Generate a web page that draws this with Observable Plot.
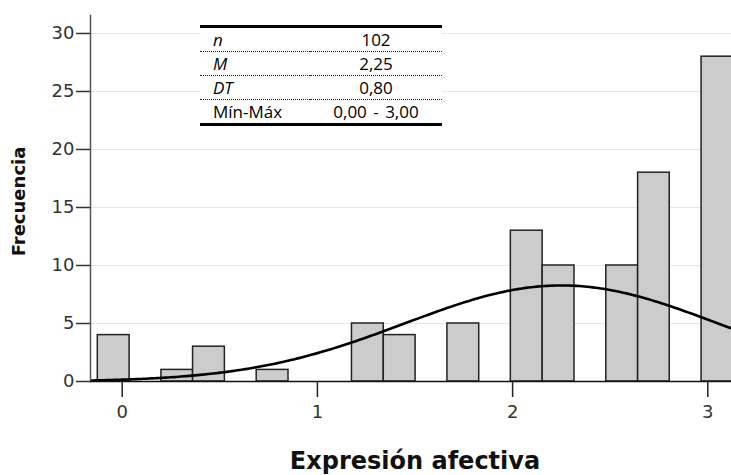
<!DOCTYPE html>
<html>
<head>
<meta charset="utf-8">
<script src="https://cdn.jsdelivr.net/npm/d3@7"></script>
<script src="https://cdn.jsdelivr.net/npm/@observablehq/plot@0.6"></script>
<style>
  html, body { margin: 0; padding: 0; background: #fff; }
  #wrap { position: relative; width: 731px; height: 475px; }
  #stats {
    position: absolute; left: 200px; top: 25px; width: 242px;
    background: #fff; border-top: 3px solid #000; border-bottom: 3px solid #000;
    border-collapse: collapse; font-family: "Open Sans", sans-serif; font-size: 17px; color: #000;
  }
  #stats td { height: 23px; padding: 0; line-height: 23px; border-bottom: 1.5px dotted #222; }
  #stats tr:last-child td { border-bottom: none; }
  #stats td.lab { padding-left: 13px; width: 97px; }
  #stats td.val { text-align: center; word-spacing: 2px; }
  #stats td.it { font-style: italic; }
</style>
</head>
<body>
<div id="wrap"></div>
<script>
// ---- data ----
const binEdges = [-0.125, 0.038, 0.201, 0.363, 0.526, 0.689, 0.852, 1.015, 1.177, 1.340, 1.503,
                  1.666, 1.829, 1.991, 2.154, 2.317, 2.480, 2.643, 2.805, 2.968, 3.131];
const counts   = [4, 0, 1, 3, 0, 1, 0, 0, 5, 4, 0, 5, 0, 13, 10, 0, 10, 18, 0, 28];
const yTicks = [0, 5, 10, 15, 20, 25, 30];
const xTicks = [0, 1, 2, 3];
const statLabels = ["n", "M", "DT", "Mín-Máx"];
const statValues = ["102", "2,25", "0,80", "0,00 - 3,00"];
const statItalic = [true, true, true, false];
const nObs = 102, meanVal = 2.25, sdVal = 0.80;

// ---- derived tables ----
const bins = counts.map((c, i) => ({x1: binEdges[i], x2: binEdges[i + 1], count: c})).filter(d => d.count > 0);
const binW = (binEdges[binEdges.length - 1] - binEdges[0]) / counts.length;
const xDomain = [-0.1624, 3.1214];
const curve = d3.range(0, 241).map(i => {
  const x = xDomain[0] + (xDomain[1] - xDomain[0]) * i / 240;
  const z = (x - meanVal) / sdVal;
  return {x, y: nObs * binW * Math.exp(-0.5 * z * z) / (sdVal * Math.sqrt(2 * Math.PI))};
});

const font = "DejaVu Sans";
const chart = Plot.plot({
  width: 731, height: 475,
  marginLeft: 90, marginRight: 0, marginTop: 15, marginBottom: 94,
  style: {fontFamily: font, background: "#fff"},
  x: {domain: xDomain},
  y: {domain: [0, 31.55]},
  marks: [
    Plot.gridY(yTicks.filter(d => d > 0), {stroke: "#e6e6e6", strokeOpacity: 1, strokeWidth: 1.2}),
    Plot.rectY(bins, {x1: "x1", x2: "x2", y: "count", fill: "#cccccc", stroke: "#222", strokeWidth: 1.5, clip: true}),
    Plot.line(curve, {x: "x", y: "y", stroke: "#000", strokeWidth: 2.6, clip: true}),
    Plot.frame({anchor: "left", stroke: "#555", strokeWidth: 1.5}),
    Plot.ruleY([0], {stroke: "#111", strokeWidth: 1.5}),
    Plot.axisY({ticks: yTicks, tickFormat: d => String(d), tickSize: 14, tickPadding: 2, fontSize: 18, fill: "#333", stroke: "#333", strokeWidth: 1.5, label: null}),
    Plot.axisX({ticks: xTicks, tickFormat: d => String(d), tickSize: 16, tickPadding: 8, fontSize: 18, fill: "#333", stroke: "#222", strokeWidth: 1.5, label: null}),
    Plot.text(["Frecuencia"], {frameAnchor: "left", textAnchor: "middle", dx: -71, dy: 3, rotate: -90, fontSize: 18, fontWeight: "bold", fill: "#111", fontFamily: font}),
    Plot.text(["Expresión afectiva"], {frameAnchor: "bottom", dx: 4, dy: 87, fontSize: 24, fontWeight: "bold", fill: "#111", fontFamily: font})
  ]
});
const wrap = document.getElementById("wrap");
wrap.appendChild(chart);

const table = document.createElement("table");
table.id = "stats";
statLabels.forEach((lab, i) => {
  const tr = document.createElement("tr");
  const a = document.createElement("td");
  a.className = "lab" + (statItalic[i] ? " it" : "");
  a.textContent = lab;
  const b = document.createElement("td");
  b.className = "val";
  b.textContent = statValues[i];
  tr.appendChild(a); tr.appendChild(b);
  table.appendChild(tr);
});
wrap.appendChild(table);
</script>
</body>
</html>
